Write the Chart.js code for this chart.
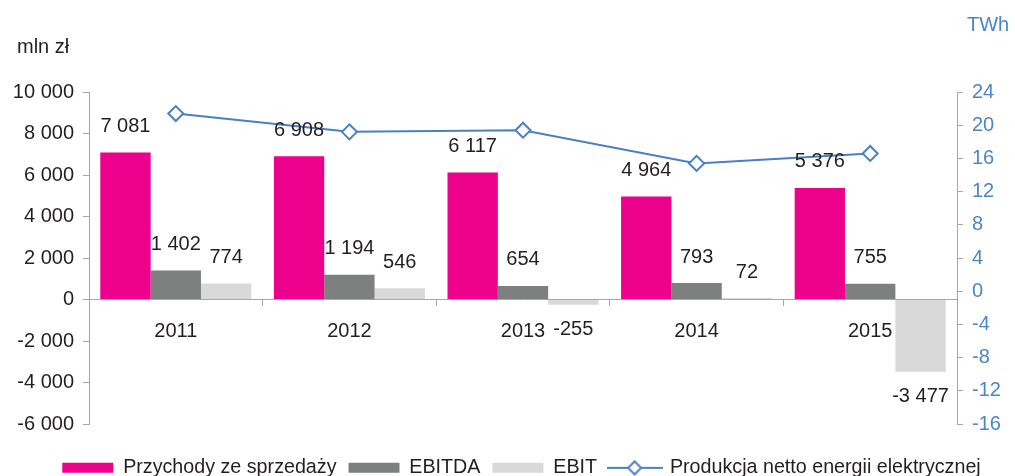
<!DOCTYPE html>
<html>
<head>
<meta charset="utf-8">
<script src="https://cdn.jsdelivr.net/npm/chart.js@4.4.1/dist/chart.umd.min.js"></script>
<style>
  html, body { margin: 0; padding: 0; background: #ffffff; }
  #wrap { width: 1015px; height: 476px; }
</style>
</head>
<body>
<div id="wrap"><canvas id="chart" width="1015" height="476"></canvas></div>
<script>
// Financial results (mln zł) and net electricity production (TWh)
const years = ['2011', '2012', '2013', '2014', '2015'];
const revenue = [7081, 6908, 6117, 4964, 5376];
const ebitda = [1402, 1194, 654, 793, 755];
const ebit = [774, 546, -255, 72, -3477];
const production = [21.4, 19.2, 19.4, 15.4, 16.6];
const seriesNames = ['Przychody ze sprzedaży', 'EBITDA', 'EBIT', 'Produkcja netto energii elektrycznej'];
const leftUnit = 'mln zł';
const rightUnit = 'TWh';

const FONT = "'Liberation Sans', Arial, Helvetica, sans-serif";
const TEXT = '#231F20';
const BLUE = '#4A86C8';
const LINE = '#4A7FC4';
const AXIS = '#A6A6A6';

// thousands separated by a space, e.g. 10 000 / -3 477
function fmt(v) {
  const s = String(Math.abs(Math.round(v))).replace(/\B(?=(\d{3})+(?!\d))/g, ' ');
  return (v < 0 ? '-' : '') + s;
}

// legend marker for the line series: short line with a hollow diamond
function lineMarker() {
  const c = document.createElement('canvas');
  c.width = 56; c.height = 18;
  const g = c.getContext('2d');
  g.strokeStyle = LINE; g.lineWidth = 2;
  g.beginPath(); g.moveTo(0, 9); g.lineTo(56, 9); g.stroke();
  g.beginPath();
  g.moveTo(28, 2.5); g.lineTo(34.5, 9); g.lineTo(28, 15.5); g.lineTo(21.5, 9); g.closePath();
  g.fillStyle = '#ffffff'; g.fill(); g.stroke();
  return c;
}

Chart.defaults.font.family = FONT;
Chart.defaults.font.size = 20;
Chart.defaults.color = TEXT;

const annotate = {
  id: 'annotate',
  afterDatasetsDraw(chart) {
    const ctx = chart.ctx;
    ctx.save();
    ctx.font = '20px ' + FONT;
    ctx.fillStyle = TEXT;
    ctx.textAlign = 'center';
    ctx.textBaseline = 'middle';
    [0, 1, 2].forEach((di) => {
      const meta = chart.getDatasetMeta(di);
      const vals = chart.data.datasets[di].data;
      meta.data.forEach((bar, i) => {
        const v = vals[i];
        const y = v >= 0 ? bar.y - 26 : bar.y + 25;
        ctx.fillText(fmt(v), bar.x, y);
      });
    });
    ctx.textAlign = 'left';
    ctx.textBaseline = 'alphabetic';
    ctx.fillText(leftUnit, 17, 53);
    ctx.fillStyle = BLUE;
    ctx.fillText(rightUnit, 967, 31);
    ctx.restore();
  }
};

const marker = lineMarker();

new Chart(document.getElementById('chart'), {
  type: 'bar',
  data: {
    labels: years,
    datasets: [
      { label: seriesNames[0], data: revenue, backgroundColor: '#EC008C', yAxisID: 'y', order: 1 },
      { label: seriesNames[1], data: ebitda, backgroundColor: '#7E8080', yAxisID: 'y', order: 1 },
      { label: seriesNames[2], data: ebit, backgroundColor: '#D9D9D9', yAxisID: 'y', order: 1 },
      {
        type: 'line', label: seriesNames[3], data: production, yAxisID: 'y1', order: 0,
        borderColor: LINE, borderWidth: 2, tension: 0,
        pointStyle: 'rectRot', pointRadius: 7.5, pointBorderWidth: 2,
        pointBackgroundColor: '#ffffff', pointBorderColor: LINE
      }
    ]
  },
  options: {
    responsive: false,
    animation: false,
    events: [],
    categoryPercentage: 0.87,
    barPercentage: 1,
    // right padding is negative so the centred legend row sits a little right of centre
    layout: { padding: { top: 92, left: 0, right: -28, bottom: 0 } },
    scales: {
      x: {
        position: { y: 0 },
        grid: { display: true, drawOnChartArea: false, drawTicks: true, tickLength: 6, offset: true, color: AXIS, lineWidth: 1 },
        border: { display: true, color: AXIS, width: 1 },
        ticks: { color: TEXT, padding: 14, maxRotation: 0, autoSkip: false, font: { size: 20 } }
      },
      y: {
        position: 'left',
        min: -6000, max: 10000,
        afterFit: (s) => { s.width = 89; },
        grid: { drawOnChartArea: false, drawTicks: true, tickLength: 6, color: AXIS },
        border: { display: true, color: AXIS, width: 1 },
        ticks: { stepSize: 2000, padding: 9, color: TEXT, font: { size: 20 }, callback: (v) => fmt(v) }
      },
      y1: {
        position: 'right',
        min: -16, max: 24,
        afterFit: (s) => { s.width = 86; },
        grid: { drawOnChartArea: false, drawTicks: true, tickLength: 6, color: AXIS },
        border: { display: true, color: AXIS, width: 1 },
        ticks: { stepSize: 4, padding: 9, color: BLUE, font: { size: 20 }, callback: (v) => String(v) }
      }
    },
    plugins: {
      tooltip: { enabled: false },
      legend: {
        position: 'bottom',
        maxHeight: 52,
        title: { display: true, text: '', padding: { top: 12, bottom: 0 }, font: { size: 10, lineHeight: 1 } },
        labels: {
          usePointStyle: true,
          pointStyleWidth: 51,
          boxHeight: 10,
          padding: 12,
          color: TEXT,
          font: { size: 19.7 },
          sort: (a, b) => a.datasetIndex - b.datasetIndex,
          generateLabels: (chart) => {
            const items = Chart.defaults.plugins.legend.labels.generateLabels(chart);
            items.forEach((it) => {
              const ds = chart.data.datasets[it.datasetIndex];
              if (ds.type === 'line') {
                it.pointStyle = marker;
              } else {
                it.pointStyle = 'rect';
                it.lineWidth = 0;
                it.strokeStyle = 'rgba(0,0,0,0)';
              }
            });
            return items;
          }
        }
      }
    }
  },
  plugins: [annotate]
});
</script>
</body>
</html>
